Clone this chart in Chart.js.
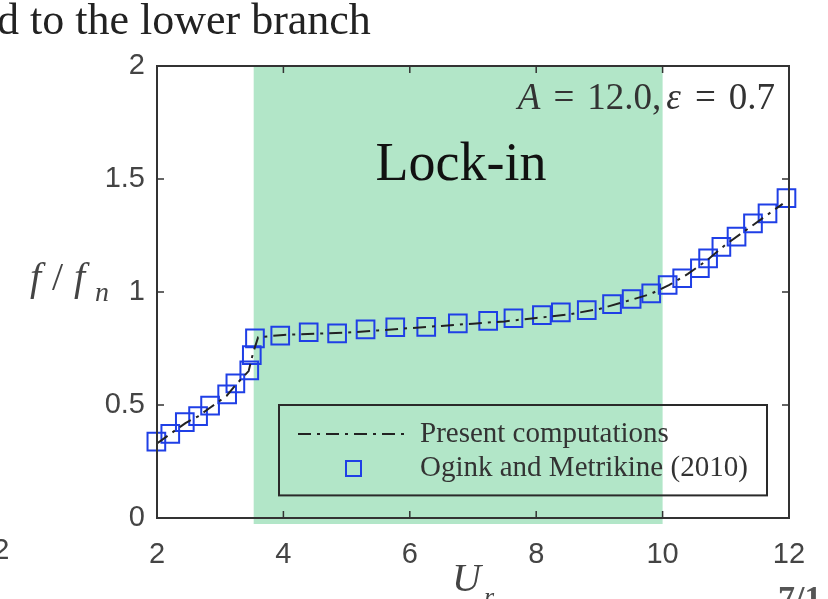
<!DOCTYPE html>
<html>
<head>
<meta charset="utf-8">
<script src="https://cdn.jsdelivr.net/npm/chart.js@4.4.1/dist/chart.umd.min.js"></script>
<style>
  html, body { margin: 0; padding: 0; background: #fff; }
  #wrap { width: 828px; height: 599px; position: relative; }
</style>
</head>
<body>
<div id="wrap"><canvas id="lockin_graph" width="828" height="599"></canvas></div>
<script>
// Reduced velocity U_r and frequency ratio f/f_n
var oginkU = [1.99, 2.21, 2.44, 2.65, 2.84, 3.11, 3.24, 3.46, 3.50, 3.55, 3.95, 4.40, 4.85, 5.30, 5.77,
              6.26, 6.76, 7.24, 7.64, 8.09, 8.39, 8.80, 9.20, 9.51, 9.82, 10.08, 10.31, 10.59, 10.72,
              10.93, 11.17, 11.43, 11.66, 11.96];
var oginkF = [0.338, 0.372, 0.424, 0.451, 0.497, 0.547, 0.596, 0.653, 0.721, 0.795, 0.807, 0.822, 0.817,
              0.835, 0.844, 0.846, 0.861, 0.872, 0.884, 0.898, 0.910, 0.920, 0.946, 0.969, 0.994, 1.031,
              1.061, 1.105, 1.149, 1.200, 1.245, 1.304, 1.348, 1.415];

// Present computations (dash-dot line), follows the markers
var presentU = [2.0, 2.2, 2.45, 2.65, 2.85, 3.1, 3.25, 3.45, 3.52, 3.6, 4.0, 4.5, 5.0, 5.5, 6.0,
                6.5, 7.0, 7.5, 8.0, 8.5, 9.0, 9.5, 9.8, 10.1, 10.4, 10.7, 11.0, 11.3, 11.6, 11.9];
var presentF = [0.33, 0.37, 0.42, 0.45, 0.49, 0.54, 0.59, 0.65, 0.73, 0.80, 0.81, 0.815, 0.82, 0.83, 0.84,
                0.85, 0.86, 0.87, 0.885, 0.90, 0.925, 0.965, 0.99, 1.03, 1.08, 1.14, 1.21, 1.27, 1.33, 1.39];

var seriesLabels = ['Present computations', 'Ogink and Metrikine (2010)'];
var xTicks = [2, 4, 6, 8, 10, 12];
var yTicks = [0, 0.5, 1, 1.5, 2];
var lockInRange = [3.53, 10.0]; // shaded lock-in band

var markerColor = '#1f3fe6';
var lineColor = '#222';
var bandColor = '#b2e6c8';
var axisColor = '#333';
var lineDash = [13, 6, 3, 6];
var serif = '"Liberation Serif", "DejaVu Serif", serif';

// Green lock-in band, drawn behind the data
var bandPlugin = {
    id: 'band',
    beforeDatasetsDraw: function (chart) {
        var ctx = chart.ctx;
        var x = chart.scales.x;
        var area = chart.chartArea;
        var x0 = x.getPixelForValue(lockInRange[0]);
        var x1 = x.getPixelForValue(lockInRange[1]);
        ctx.save();
        ctx.fillStyle = bandColor;
        ctx.fillRect(x0, area.top, x1 - x0, area.bottom - area.top + 6);
        ctx.restore();
    }
};

// Box, inward ticks, legend and all the loose text
var decorPlugin = {
    id: 'decor',
    afterDraw: function (chart) {
        var ctx = chart.ctx;
        var x = chart.scales.x;
        var y = chart.scales.y;
        var a = chart.chartArea;
        ctx.save();

        // axes box
        ctx.strokeStyle = axisColor;
        ctx.lineWidth = 2;
        ctx.strokeRect(a.left, a.top, a.right - a.left, a.bottom - a.top);

        // inward tick marks
        ctx.lineWidth = 1.5;
        ctx.beginPath();
        xTicks.slice(1, -1).forEach(function (v) {
            var px = x.getPixelForValue(v);
            ctx.moveTo(px, a.bottom); ctx.lineTo(px, a.bottom - 7);
            ctx.moveTo(px, a.top); ctx.lineTo(px, a.top + 7);
        });
        yTicks.slice(1, -1).forEach(function (v) {
            var py = y.getPixelForValue(v);
            ctx.moveTo(a.left, py); ctx.lineTo(a.left + 7, py);
            ctx.moveTo(a.right, py); ctx.lineTo(a.right - 7, py);
        });
        ctx.stroke();

        // legend box
        var lx = 279, ly = y.getPixelForValue(0.5);
        var lw = 767 - lx, lh = y.getPixelForValue(0.1) - ly;
        ctx.strokeStyle = '#2a2a2a';
        ctx.lineWidth = 2;
        ctx.strokeRect(lx, ly, lw, lh);

        var row1 = ly + 29, row2 = ly + 63;
        ctx.strokeStyle = lineColor;
        ctx.setLineDash(lineDash);
        ctx.beginPath();
        ctx.moveTo(lx + 19, row1); ctx.lineTo(lx + 127, row1);
        ctx.stroke();
        ctx.setLineDash([]);
        ctx.strokeStyle = markerColor;
        ctx.lineWidth = 2;
        ctx.strokeRect(lx + 67, row2 - 7, 15, 15);

        ctx.fillStyle = '#333';
        ctx.font = '29px ' + serif;
        ctx.textBaseline = 'middle';
        ctx.textAlign = 'left';
        ctx.fillText(chart.data.datasets[0].label, lx + 141, row1);
        ctx.fillText(chart.data.datasets[1].label, lx + 141, row2);

        // Lock-in label
        ctx.fillStyle = '#111';
        ctx.font = '54px ' + serif;
        ctx.textAlign = 'center';
        ctx.fillText('Lock-in', 461, 166);

        // parameter annotation, right aligned, with math spacing round '='
        var parts = [['A', true, 0], ['=', false, 13], ['12.0,', false, 13], ['\u03b5', true, 5], ['=', false, 14], ['0.7', false, 13]];
        var total = 0;
        parts.forEach(function (p) {
            ctx.font = (p[1] ? 'italic ' : '') + '37px ' + serif;
            total += p[2] + ctx.measureText(p[0]).width;
        });
        var tx = a.right - 14 - total;
        ctx.fillStyle = '#333';
        ctx.textAlign = 'left';
        parts.forEach(function (p) {
            ctx.font = (p[1] ? 'italic ' : '') + '37px ' + serif;
            tx += p[2];
            ctx.fillText(p[0], tx, 99);
            tx += ctx.measureText(p[0]).width;
        });

        // y axis title f/f_n
        ctx.fillStyle = '#444';
        ctx.font = 'italic 40px ' + serif;
        ctx.fillText('f', 30, 279);
        ctx.font = '40px ' + serif;
        ctx.fillText('/', 52, 279);
        ctx.font = 'italic 40px ' + serif;
        ctx.fillText('f', 74, 279);
        ctx.font = 'italic 28px ' + serif;
        ctx.fillText('n', 95, 294);

        // x axis title U_r
        ctx.font = 'italic 40px ' + serif;
        ctx.fillText('U', 452, 580);
        ctx.font = 'italic 26px ' + serif;
        ctx.fillText('r', 484, 598);

        // slide leftovers
        ctx.fillStyle = '#222';
        ctx.font = '44px ' + serif;
        ctx.fillText('d to the lower branch', -3, 22);
        ctx.fillStyle = '#555';
        ctx.font = 'bold 34px ' + serif;
        ctx.fillText('7/1', 778, 600);
        ctx.fillStyle = '#444';
        ctx.font = '30px "Liberation Sans", sans-serif';
        ctx.textAlign = 'center';
        ctx.fillText('2', 1, 551);

        ctx.restore();
    }
};

function plainTick(v) { return String(Number(v)); }

var canvas = document.getElementById('lockin_graph').getContext('2d');
var lockin_graph = new Chart(canvas, {
    type: 'scatter',
    data: {
        datasets: [{
            label: seriesLabels[0],
            data: presentU.map(function (u, i) { return { x: u, y: presentF[i] }; }),
            showLine: true,
            borderColor: lineColor,
            borderWidth: 2,
            borderDash: lineDash,
            pointRadius: 0,
            fill: false
        },
        {
            label: seriesLabels[1],
            data: oginkU.map(function (u, i) { return { x: u, y: oginkF[i] }; }),
            showLine: false,
            clip: false,
            pointStyle: 'rect',
            pointRadius: 12.5,
            borderColor: markerColor,
            borderWidth: 2,
            backgroundColor: 'rgba(0,0,0,0)'
        }]
    },
    options: {
        responsive: false,
        animation: false,
        layout: { padding: { left: 0, top: 66, right: 39, bottom: 0 } },
        plugins: { legend: { display: false }, tooltip: { enabled: false } },
        scales: {
            x: {
                type: 'linear',
                min: 2, max: 12,
                afterBuildTicks: function (s) { s.ticks = xTicks.map(function (v) { return { value: v }; }); },
                afterFit: function (s) { s.height = 81; },
                grid: { display: false, drawTicks: false },
                border: { display: false },
                ticks: { padding: 20, color: '#444', callback: plainTick, font: { family: 'Liberation Sans', size: 29 } }
            },
            y: {
                type: 'linear',
                min: 0, max: 2,
                afterBuildTicks: function (s) { s.ticks = yTicks.map(function (v) { return { value: v }; }); },
                afterFit: function (s) { s.width = 157; },
                grid: { display: false, drawTicks: false },
                border: { display: false },
                ticks: { padding: 12, color: '#444', callback: plainTick, font: { family: 'Liberation Sans', size: 29 } }
            }
        }
    },
    plugins: [bandPlugin, decorPlugin]
});
</script>
</body>
</html>
